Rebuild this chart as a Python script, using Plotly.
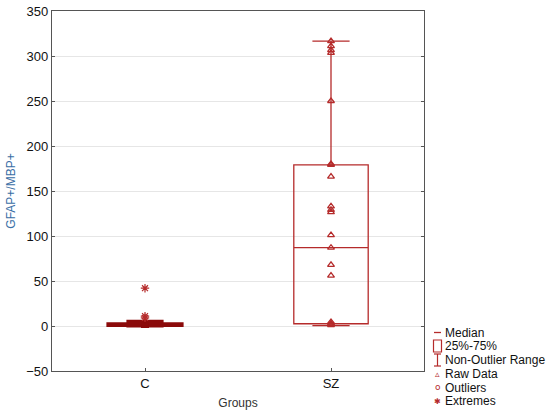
import plotly.graph_objects as go

groups = ["C", "SZ"]
q1 = [0.4, 2.5]
median = [1.5, 87]
q3 = [2.6, 179]
lower_fence = [0.0, 0.5]
upper_fence = [5.5, 316.5]
colors = ["#8b0a0a", "#b52b2b"]

c_raw = [0.1, 0.3, 0.5, 0.7, 0.9, 1.1, 1.3, 1.5, 1.7, 2.0, 2.2, 2.5, 2.8, 3.2, 4.0]
sz_raw = [316.5, 311, 306.5, 303.5, 250, 180, 179, 166, 133, 129, 126.5,
          101, 87, 68, 56, 4.5, 3, 2, 1]
c_extremes = [42, 11, 9]

legend_labels = ["Median", "25%-75%", "Non-Outlier Range", "Raw Data", "Outliers", "Extremes"]

fig = go.Figure()

for g, a, m, b, lo, hi, col in zip(groups, q1, median, q3, lower_fence, upper_fence, colors):
    fig.add_trace(go.Box(
        x=[g], q1=[a], median=[m], q3=[b], lowerfence=[lo], upperfence=[hi],
        width=0.4, whiskerwidth=0.5, boxpoints=False,
        fillcolor="rgba(0,0,0,0)",
        line=dict(color=col, width=2.8 if g == "C" else 1.3),
        showlegend=False, hoverinfo="skip",
    ))

fig.add_trace(go.Scatter(
    x=["C"] * len(c_raw), y=c_raw, mode="markers",
    marker=dict(symbol="triangle-up-open", size=6, color=colors[0], line=dict(width=1.3)),
    showlegend=False,
))
fig.add_trace(go.Scatter(
    x=["SZ"] * len(sz_raw), y=sz_raw, mode="markers",
    marker=dict(symbol="triangle-up-open", size=6, color=colors[1], line=dict(width=1.3)),
    showlegend=False,
))
fig.add_trace(go.Scatter(
    x=["C"] * len(c_extremes), y=c_extremes, mode="markers",
    marker=dict(symbol="asterisk-open", size=7, color=colors[1], line=dict(width=1.2, color=colors[1])),
    showlegend=False,
))

# plot area in page pixels
L, R, T, B = 52, 550 - 424, 11, 417 - 371
W, H = 550 - L - R, 417 - T - B


def px(x):
    return (x - L) / W


def py(y):
    return (417 - B - y) / H


leg_col = "#b52b2b"
rows = [332.5, 346, 360, 373.5, 387.5, 401]
shapes = []
# median dash
shapes.append(dict(type="line", xref="paper", yref="paper", x0=px(434), x1=px(441),
                   y0=py(rows[0]), y1=py(rows[0]), line=dict(color=leg_col, width=1.3)))
# box square
shapes.append(dict(type="rect", xref="paper", yref="paper", x0=px(433.5), x1=px(441.5),
                   y0=py(rows[1] + 6), y1=py(rows[1] - 6), line=dict(color=leg_col, width=1.2)))
# non-outlier range I-beam
for seg in [(434, 441, rows[2] - 6, rows[2] - 6), (434, 441, rows[2] + 6, rows[2] + 6),
            (437.5, 437.5, rows[2] - 6, rows[2] + 6)]:
    shapes.append(dict(type="line", xref="paper", yref="paper", x0=px(seg[0]), x1=px(seg[1]),
                       y0=py(seg[2]), y1=py(seg[3]), line=dict(color=leg_col, width=1.2)))

annotations = []
for lab, yy in zip(legend_labels, rows):
    annotations.append(dict(text=lab, xref="paper", yref="paper", x=px(443), y=py(yy),
                            xanchor="left", yanchor="middle", showarrow=False,
                            font=dict(family="Liberation Sans, Arial", size=12, color="#111111")))
for glyph, yy, sz in [("▵", rows[3], 9), ("o", rows[4] - 1, 9), ("✱", rows[5], 8)]:
    annotations.append(dict(text=glyph, xref="paper", yref="paper", x=px(437.5), y=py(yy),
                            xanchor="center", yanchor="middle", showarrow=False,
                            font=dict(family="DejaVu Sans", size=sz, color=leg_col)))

fig.update_layout(
    width=550, height=417,
    margin=dict(l=L, r=R, t=T, b=B),
    paper_bgcolor="white", plot_bgcolor="white",
    font=dict(family="Liberation Sans, Arial", size=13, color="#111111"),
    showlegend=False,
    shapes=shapes, annotations=annotations,
    xaxis=dict(
        categoryorder="array", categoryarray=groups, range=[-0.5, 1.5],
        showline=True, linecolor="#555555", linewidth=1.2, mirror=True,
        ticks="inside", ticklen=3, tickcolor="#555555", showgrid=False,
        automargin=False,
        title=dict(text="Groups", font=dict(size=12, color="#333333"), standoff=8),
    ),
    yaxis=dict(
        range=[-50, 350], dtick=50, zeroline=False,
        showline=True, linecolor="#555555", linewidth=1.2, mirror="ticks",
        ticks="inside", ticklen=3, tickcolor="#555555",
        showgrid=True, gridcolor="#e6e6e6", gridwidth=1,
        automargin=False,
        title=dict(text="GFAP+/MBP+", font=dict(size=12, color="#3a6ea5"), standoff=8),
    ),
)

# drop the default page margin so the figure sits at the window's corner
fig.write_html("out.html", config={"displayModeBar": False},
               post_script="document.body.style.margin='0';")
